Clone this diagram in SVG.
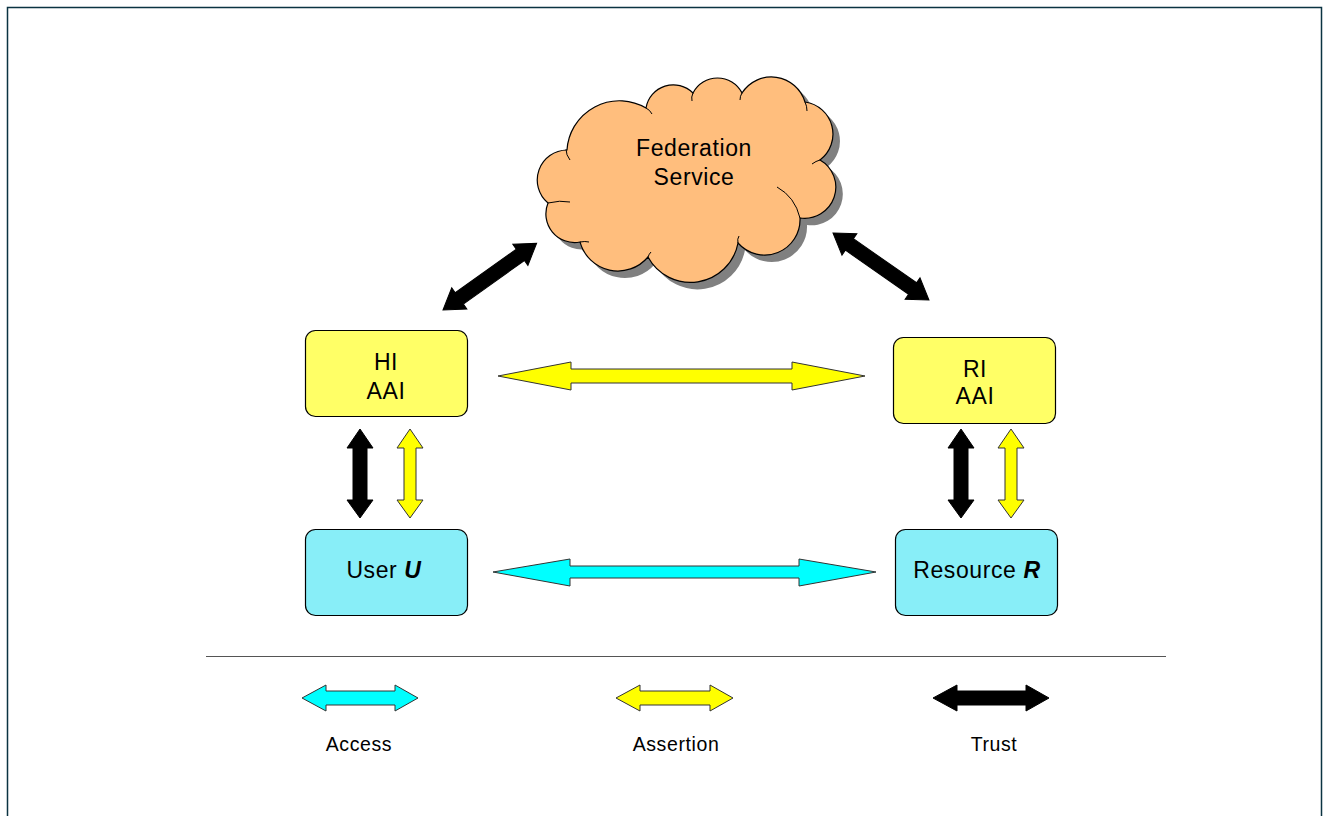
<svg xmlns="http://www.w3.org/2000/svg" width="1323" height="816" viewBox="0 0 1323 816">
<style>
text{font-family:"Liberation Sans",Arial,sans-serif;fill:#000;text-anchor:middle}
.lbl{font-size:23px;letter-spacing:0.6px}
.leg{font-size:19.5px;letter-spacing:0.6px}
.box{stroke:#000;stroke-width:1.2}
.aai{fill:#FFFF66}
.ent{fill:#88EEF8}
.yel{fill:#FFFF00;stroke:#333;stroke-width:1}
.cy{fill:#00FFFF;stroke:#333;stroke-width:1}
.blk{fill:#000;stroke:#000;stroke-width:1}
.inner{fill:none;stroke:#000;stroke-width:1}
</style>
<rect x="0" y="0" width="1323" height="816" fill="#fff"/>
<path d="M7.5,816 V7.5 H1321.5 V816" fill="none" stroke="#0b3342" stroke-width="1.5"/>

<g id="cloud">
<defs>
<path id="cloudShape" d="M567,150 A52.5,52.5 0 0 1 646,108 A27.7,27.7 0 0 1 693,93 A27.5,27.5 0 0 1 742,93 A35,35 0 0 1 805,102 A32.4,32.4 0 0 1 820,160 A31.2,31.2 0 0 1 800,218 A35.4,35.4 0 0 1 738,243 A48.3,48.3 0 0 1 648,257 A39.3,39.3 0 0 1 580,242 A28.7,28.7 0 0 1 548,203 A30,30 0 0 1 567,150 Z"/>
</defs>
<use href="#cloudShape" transform="translate(7,7)" fill="#808080"/>
<use href="#cloudShape" fill="#FFBE7D" stroke="#000" stroke-width="1.2"/>
<path class="inner" d="M566,149 Q566,155 570,160 M646,108 Q650,110 652,114 M693,93 Q691,97 692,101 M742,93 Q740,96 740,100 M805,102 Q807,106 807,111 M820,160 Q816,161 812,164 M777,187 Q795,197 800,218 M738,243 Q737,239 739,236 M648,257 Q649,254 651,252 M580,242 Q585,241 589,242 M548,203 Q560,200 570,202"/>
<text class="lbl" x="694" y="156">Federation</text>
<text class="lbl" x="694" y="185">Service</text>
</g>

<g id="hi-aai">
<rect class="box aai" x="305.5" y="330.5" width="162" height="86" rx="10"/>
<text class="lbl" x="386" y="370">HI</text>
<text class="lbl" x="386" y="399">AAI</text>
</g>

<g id="ri-aai">
<rect class="box aai" x="893.5" y="337.5" width="162" height="86" rx="10"/>
<text class="lbl" x="975" y="377">RI</text>
<text class="lbl" x="975" y="404">AAI</text>
</g>

<g id="user">
<rect class="box ent" x="305.5" y="529.5" width="162" height="86" rx="10"/>
<text class="lbl" x="384" y="578">User <tspan font-weight="bold" font-style="italic">U</tspan></text>
</g>

<g id="resource">
<rect class="box ent" x="895.5" y="529.5" width="162" height="86" rx="10"/>
<text class="lbl" x="977" y="578">Resource <tspan font-weight="bold" font-style="italic">R</tspan></text>
</g>

<g id="connectors">
<polygon class="blk" transform="translate(443,310) rotate(-35.5)" points="0,0 20,-13 20,-7 95,-7 95,-13 115,0 95,13 95,7 20,7 20,13"/>
<polygon class="blk" transform="translate(833,233) rotate(34.9)" points="0,0 20,-13 20,-7 97,-7 97,-13 117,0 97,13 97,7 20,7 20,13"/>
<polygon class="yel" points="498,376 571,362 571,369 792,369 792,362 865,376 792,390 792,383 571,383 571,390"/>
<polygon class="cy" points="493,572 570,559 570,566 799,566 799,559 876,572 799,586 799,578 570,578 570,586"/>
<polygon class="blk" points="360,429 373,448 367,448 367,500 373,500 360,518 347,500 353,500 353,448 347,448"/>
<polygon class="yel" points="410,429 423,448 416,448 416,500 423,500 410,518 397,500 404,500 404,448 397,448"/>
<polygon class="blk" points="961,429 974,448 968,448 968,500 974,500 961,518 948,500 954,500 954,448 948,448"/>
<polygon class="yel" points="1011,429 1024,448 1017,448 1017,500 1024,500 1011,518 998,500 1005,500 1005,448 998,448"/>
</g>

<g id="legend">
<line x1="206" y1="656.5" x2="1166" y2="656.5" stroke="#555" stroke-width="1"/>
<polygon class="cy" points="302,698 326,685 326,691 395,691 395,685 418,698 395,711 395,705 326,705 326,711"/>
<polygon class="yel" points="616,698 640,685 640,691 710,691 710,685 733,698 710,711 710,705 640,705 640,711"/>
<polygon class="blk" points="933,698 957,685 957,691 1026,691 1026,685 1049,698 1026,711 1026,705 957,705 957,711"/>
<text class="leg" x="359" y="751">Access</text>
<text class="leg" x="676" y="751">Assertion</text>
<text class="leg" x="994" y="751">Trust</text>
</g>
</svg>
